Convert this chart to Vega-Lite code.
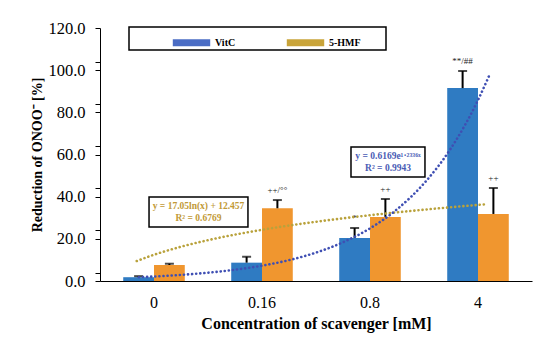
{
  "$schema": "https://vega.github.io/schema/vega-lite/v6.json",
  "width": 432,
  "height": 253,
  "autosize": {"type": "none"},
  "padding": {"left": 100, "top": 28, "right": 18, "bottom": 63},
  "background": "white",
  "config": {
    "view": {"stroke": null},
    "font": "Liberation Serif",
    "axis": {"labelFont": "Liberation Serif", "titleFont": "Liberation Serif", "labelColor": "black", "titleColor": "black", "domainColor": "black", "tickColor": "black", "grid": false}
  },
  "datasets": {
    "bars": [
      {"conc": "0", "series": "VitC", "value": 1.8, "upper": 2.3, "sig": ""},
      {"conc": "0", "series": "5-HMF", "value": 7.6, "upper": 8.2, "sig": ""},
      {"conc": "0.16", "series": "VitC", "value": 8.7, "upper": 11.5, "sig": ""},
      {"conc": "0.16", "series": "5-HMF", "value": 34.5, "upper": 38.4, "sig": "++/°°"},
      {"conc": "0.8", "series": "VitC", "value": 20.4, "upper": 25.1, "sig": "*"},
      {"conc": "0.8", "series": "5-HMF", "value": 30.4, "upper": 38.9, "sig": "++"},
      {"conc": "4", "series": "VitC", "value": 91.5, "upper": 99.6, "sig": "**/##"},
      {"conc": "4", "series": "5-HMF", "value": 31.8, "upper": 44.1, "sig": "++"}
    ],
    "trend": [
      {"fit": "exp", "t": 0.86, "y": 1.79},
      {"fit": "exp", "t": 1.0, "y": 2.12},
      {"fit": "exp", "t": 1.25, "y": 2.89},
      {"fit": "exp", "t": 1.5, "y": 3.93},
      {"fit": "exp", "t": 1.75, "y": 5.34},
      {"fit": "exp", "t": 2.0, "y": 7.27},
      {"fit": "exp", "t": 2.25, "y": 9.9},
      {"fit": "exp", "t": 2.5, "y": 13.48},
      {"fit": "exp", "t": 2.75, "y": 18.35},
      {"fit": "exp", "t": 3.0, "y": 24.97},
      {"fit": "exp", "t": 3.25, "y": 34.0},
      {"fit": "exp", "t": 3.5, "y": 46.3},
      {"fit": "exp", "t": 3.75, "y": 63.0},
      {"fit": "exp", "t": 4.0, "y": 85.8},
      {"fit": "exp", "t": 4.1, "y": 97.0},
      {"fit": "log", "t": 0.84, "y": 9.48},
      {"fit": "log", "t": 1.0, "y": 12.46},
      {"fit": "log", "t": 1.25, "y": 16.26},
      {"fit": "log", "t": 1.5, "y": 19.37},
      {"fit": "log", "t": 2.0, "y": 24.28},
      {"fit": "log", "t": 2.5, "y": 28.08},
      {"fit": "log", "t": 3.0, "y": 31.19},
      {"fit": "log", "t": 3.5, "y": 33.82},
      {"fit": "log", "t": 4.09, "y": 36.47}
    ],
    "boxes": [
      {"fit": "log", "x1": 0.954, "x2": 1.87, "y1": 25.6, "y2": 39.8},
      {"fit": "exp", "x1": 2.824, "x2": 3.509, "y1": 49.3, "y2": 63.6}
    ],
    "eqs": [
      {"fit": "log", "t": 1.412, "y": 35.6, "label": "y = 17.05ln(x) + 12.457"},
      {"fit": "log", "t": 1.412, "y": 29.9, "label": "R² = 0.6769"},
      {"fit": "exp", "t": 3.167, "y": 59.3, "label": "y = 0.6169e¹·²³³⁶ˣ"},
      {"fit": "exp", "t": 3.167, "y": 53.6, "label": "R² = 0.9943"}
    ]
  },
  "layer": [
    {
      "data": {"name": "bars"},
      "encoding": {
        "x": {
          "field": "conc", "type": "nominal", "sort": null,
          "scale": {"paddingInner": 0.43, "paddingOuter": 0.215},
          "axis": {"title": "Concentration of scavenger [mM]", "labelAngle": 0, "labelFontSize": 16, "titleFontSize": 16, "titleFontWeight": "bold", "ticks": false, "labelPadding": 13, "titlePadding": 5, "domainWidth": 1}
        },
        "xOffset": {"field": "series", "type": "nominal", "sort": ["VitC", "5-HMF"], "scale": {"paddingInner": 0, "paddingOuter": 0}}
      },
      "layer": [
        {
          "mark": {"type": "bar"},
          "encoding": {
            "y": {
              "field": "value", "type": "quantitative",
              "scale": {"domain": [0, 120], "nice": false},
              "axis": {"title": "Reduction of ONOO⁻ [%]", "values": [0, 20, 40, 60, 80, 100, 120], "format": ".1f", "labelFontSize": 16.5, "titleFontSize": 14, "titleFontWeight": "bold", "tickSize": 5, "labelPadding": 10, "titlePadding": 3, "domainWidth": 1}
            },
            "color": {
              "field": "series", "type": "nominal", "sort": ["VitC", "5-HMF"],
              "scale": {"domain": ["VitC", "5-HMF"], "range": ["#2f7bc2", "#f0962f"]},
              "legend": {
                "orient": "none", "legendX": 29, "legendY": -1, "direction": "horizontal",
                "title": ".", "titleOrient": "right", "titleColor": "white", "titleFontSize": 10, "titlePadding": 29,
                "symbolType": "stroke", "symbolSize": 1400, "symbolStrokeWidth": 7,
                "labelFont": "Liberation Serif", "labelFontSize": 10, "labelFontWeight": "bold", "labelColor": "black",
                "labelOffset": 1,
                "strokeColor": "black", "padding": -7, "columnPadding": 0, "symbolOffset": 47,
                "encode": {
                  "legend": {"update": {"strokeWidth": {"value": 1.5}}},
                  "symbols": {"update": {"stroke": [{"test": "datum.value === 'VitC'", "value": "#4a6cc4"}, {"value": "#c9a43a"}], "strokeWidth": {"value": 7}}}
                }
              }
            }
          }
        },
        {
          "mark": {"type": "rule", "color": "black", "strokeWidth": 2},
          "encoding": {"y": {"field": "value", "type": "quantitative"}, "y2": {"field": "upper"}}
        },
        {
          "mark": {"type": "tick", "color": "black", "thickness": 2, "size": 9, "orient": "horizontal"},
          "encoding": {"y": {"field": "upper", "type": "quantitative"}}
        },
        {
          "mark": {"type": "text", "fontSize": 9, "baseline": "bottom", "dy": -5, "color": "#222"},
          "encoding": {"y": {"field": "upper", "type": "quantitative"}, "text": {"field": "sig"}}
        }
      ]
    },
    {
      "layer": [
        {
          "data": {"name": "trend"},
          "transform": [{"filter": "datum.fit === 'log'"}],
          "mark": {"type": "line", "color": "#b9a23c", "strokeWidth": 2.6, "strokeDash": [0.1, 4], "strokeCap": "round", "interpolate": "monotone"},
          "encoding": {
            "x": {"field": "t", "type": "quantitative", "scale": {"domain": [0.5, 4.5], "nice": false, "zero": false}, "axis": null},
            "y": {"field": "y", "type": "quantitative", "axis": {"values": [4, 8, 12, 16, 24, 28, 32, 36, 44, 48, 52, 56, 64, 68, 72, 76, 84, 88, 92, 96, 104, 108, 112, 116], "labels": false, "domain": false, "tickSize": 5, "title": null, "orient": "left"}}
          }
        },
        {
          "data": {"name": "trend"},
          "transform": [{"filter": "datum.fit === 'exp'"}],
          "mark": {"type": "line", "color": "#3f4fb3", "strokeWidth": 2.6, "strokeDash": [0.1, 4], "strokeCap": "round", "interpolate": "monotone"},
          "encoding": {
            "x": {"field": "t", "type": "quantitative"},
            "y": {"field": "y", "type": "quantitative"}
          }
        },
        {
          "data": {"name": "boxes"},
          "mark": {"type": "rect", "fill": "white", "stroke": "black", "strokeWidth": 1.5},
          "encoding": {
            "x": {"field": "x1", "type": "quantitative"},
            "x2": {"field": "x2"},
            "y": {"field": "y1", "type": "quantitative"},
            "y2": {"field": "y2"}
          }
        },
        {
          "data": {"name": "eqs"},
          "mark": {"type": "text", "fontSize": 9.5, "fontWeight": "bold", "baseline": "middle"},
          "encoding": {
            "x": {"field": "t", "type": "quantitative"},
            "y": {"field": "y", "type": "quantitative"},
            "text": {"field": "label"},
            "color": {"condition": {"test": "datum.fit === 'log'", "value": "#c29a36"}, "value": "#4a5cb5"}
          }
        }
      ]
    }
  ],
  "resolve": {"scale": {"x": "independent"}, "axis": {"x": "independent", "y": "independent"}}
}
